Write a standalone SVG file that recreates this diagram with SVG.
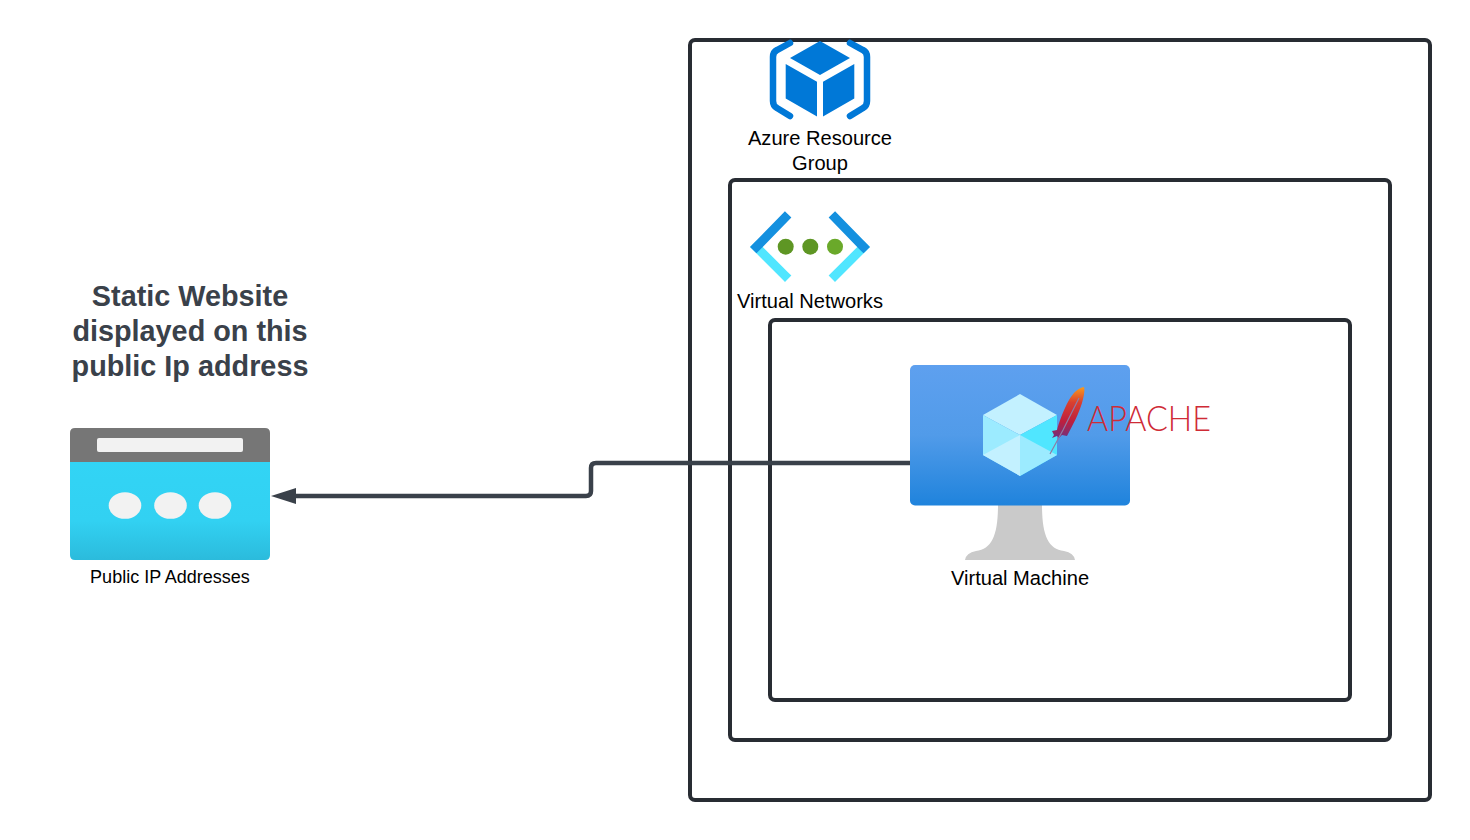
<svg xmlns="http://www.w3.org/2000/svg" width="1470" height="840" viewBox="0 0 1470 840">
<style>
.frame{fill:none;stroke:#282c33;stroke-width:4}
.lbl{font-family:"Liberation Sans",Arial,sans-serif;fill:#000;text-anchor:middle}
.title{font-family:"Liberation Sans",Arial,sans-serif;font-weight:700;font-size:28.800px;fill:#3a414a;text-anchor:middle}
.conn{fill:none;stroke:#3a414a;stroke-width:4.500}
</style>
<defs>
<linearGradient id="vmScreen" x1="0" y1="0" x2="0" y2="1"><stop offset="0" stop-color="#5ea0ef"/><stop offset="0.5" stop-color="#519be9"/><stop offset="1" stop-color="#1f83dc"/></linearGradient>
<linearGradient id="ipBody" x1="0" y1="0" x2="0" y2="1"><stop offset="0" stop-color="#32d4f5"/><stop offset="0.6" stop-color="#32d1f2"/><stop offset="1" stop-color="#2bbbdc"/></linearGradient>
<linearGradient id="feather" x1="0" y1="0" x2="0" y2="1"><stop offset="0" stop-color="#f79a1f"/><stop offset="0.3" stop-color="#d9402f"/><stop offset="0.68" stop-color="#bd1f3f"/><stop offset="1" stop-color="#70307f"/></linearGradient>
<marker id="head" markerUnits="userSpaceOnUse" markerWidth="26" markerHeight="18" refX="0" refY="9" orient="auto"><path d="M25 9L0 1V17Z" fill="#3a414a"/></marker>
</defs>
<g id="resource-group-frame"><rect class="frame" x="690" y="40" width="740" height="760" rx="5"/></g>
<g id="vnet-frame"><rect class="frame" x="730" y="180" width="660" height="560" rx="5"/></g>
<g id="subnet-frame"><rect class="frame" x="770" y="320" width="580" height="380" rx="5"/></g>
<g id="connectors"><path class="conn" d="M910 463H596Q591 463 591 468V491Q591 496 586 496H296" marker-end="url(#head)"/></g>
<g id="azure-resource-group">
<path d="M790 43L777 50Q773 52 773 57V101Q773 106 777 108L790 116M850 43L863 50Q867 52 867 57V101Q867 106 863 108L850 116" fill="none" stroke="#0078d7" stroke-width="6.500" stroke-linecap="round"/>
<path d="M820 41L850 58L820 75L790 58Z M785.700 64L817 81.700V116.500L785.700 98.500Z M854.300 64L823 81.700V116.500L854.300 98.500Z" fill="#0078d7"/>
<text class="lbl" font-size="20.100" x="820" y="145">Azure Resource</text><text class="lbl" font-size="20.100" x="820" y="170">Group</text>
</g>
<g id="virtual-networks">
<path d="M756.400 247L785 275.600M863.600 247L835 275.600" fill="none" stroke="#50e6ff" stroke-width="9" stroke-linecap="square"/>
<path d="M756.400 247L785 217.600M863.600 247L835 217.600" fill="none" stroke="#1490df" stroke-width="9" stroke-linecap="square"/>
<circle cx="785.700" cy="246.700" r="8" fill="#5e9624"/><circle cx="810.300" cy="246.700" r="8" fill="#5e9624"/><circle cx="835" cy="246.700" r="8" fill="#6aa92a"/>
<text class="lbl" font-size="20.100" x="810" y="308">Virtual Networks</text>
</g>
<g id="virtual-machine">
<path d="M998 505H1042C1042 535 1048 549 1064 551Q1074 553 1075 560H965Q966 553 976 551C992 549 998 535 998 505Z" fill="#cacaca"/>
<rect x="910" y="365" width="220" height="140.500" rx="5" fill="url(#vmScreen)"/>
<path d="M1020 394L1057 415L1020 435L983 415Z" fill="#c3f1ff"/>
<path d="M983 415L1020 435V476L983 455Z" fill="#9cebff"/>
<path d="M1057 415L1020 435V476L1057 455Z" fill="#50e6ff"/>
<path d="M983 455L1020 435L1020 476Z" fill="#c3f1ff"/>
<path d="M1020 435L1057 455L1020 476Z" fill="#9cebff"/>
<text class="lbl" font-size="20.100" x="1020" y="585">Virtual Machine</text>
</g>
<g id="apache">
<path d="M1084 387C1078 388 1073 393 1069 400C1063 411 1059 422 1057 430L1052 431L1054 435L1052 438L1057 436L1059 438L1062 435L1067 436C1073 425 1079 413 1082 403C1084 396 1085 390 1084 387Z" fill="url(#feather)"/>
<path d="M1079 398L1063 430L1050 454" fill="none" stroke="#8f7ba5" stroke-width="1.200"/>
<text x="1087" y="431" font-family="Lato,'Liberation Sans',sans-serif" font-weight="300" font-size="36" fill="#cf2b36" textLength="124" lengthAdjust="spacingAndGlyphs">APACHE</text>
</g>
<g id="public-ip">
<path d="M70 462V433Q70 428 75 428H265Q270 428 270 433V462Z" fill="#767676"/>
<path d="M70 462H270V555Q270 560 265 560H75Q70 560 70 555Z" fill="url(#ipBody)"/>
<rect x="97" y="438" width="146" height="14" rx="2" fill="#f2f2f2"/>
<ellipse cx="125" cy="505.500" rx="16.300" ry="13.300" fill="#f2f2f2"/><ellipse cx="170.500" cy="505.500" rx="16.300" ry="13.300" fill="#f2f2f2"/><ellipse cx="215" cy="505.500" rx="16.300" ry="13.300" fill="#f2f2f2"/>
<text class="lbl" font-size="18" x="170" y="583">Public IP Addresses</text>
</g>
<g id="caption"><text class="title" x="190" y="306">Static Website</text><text class="title" x="190" y="341">displayed on this</text><text class="title" x="190" y="376">public Ip address</text></g>
</svg>
